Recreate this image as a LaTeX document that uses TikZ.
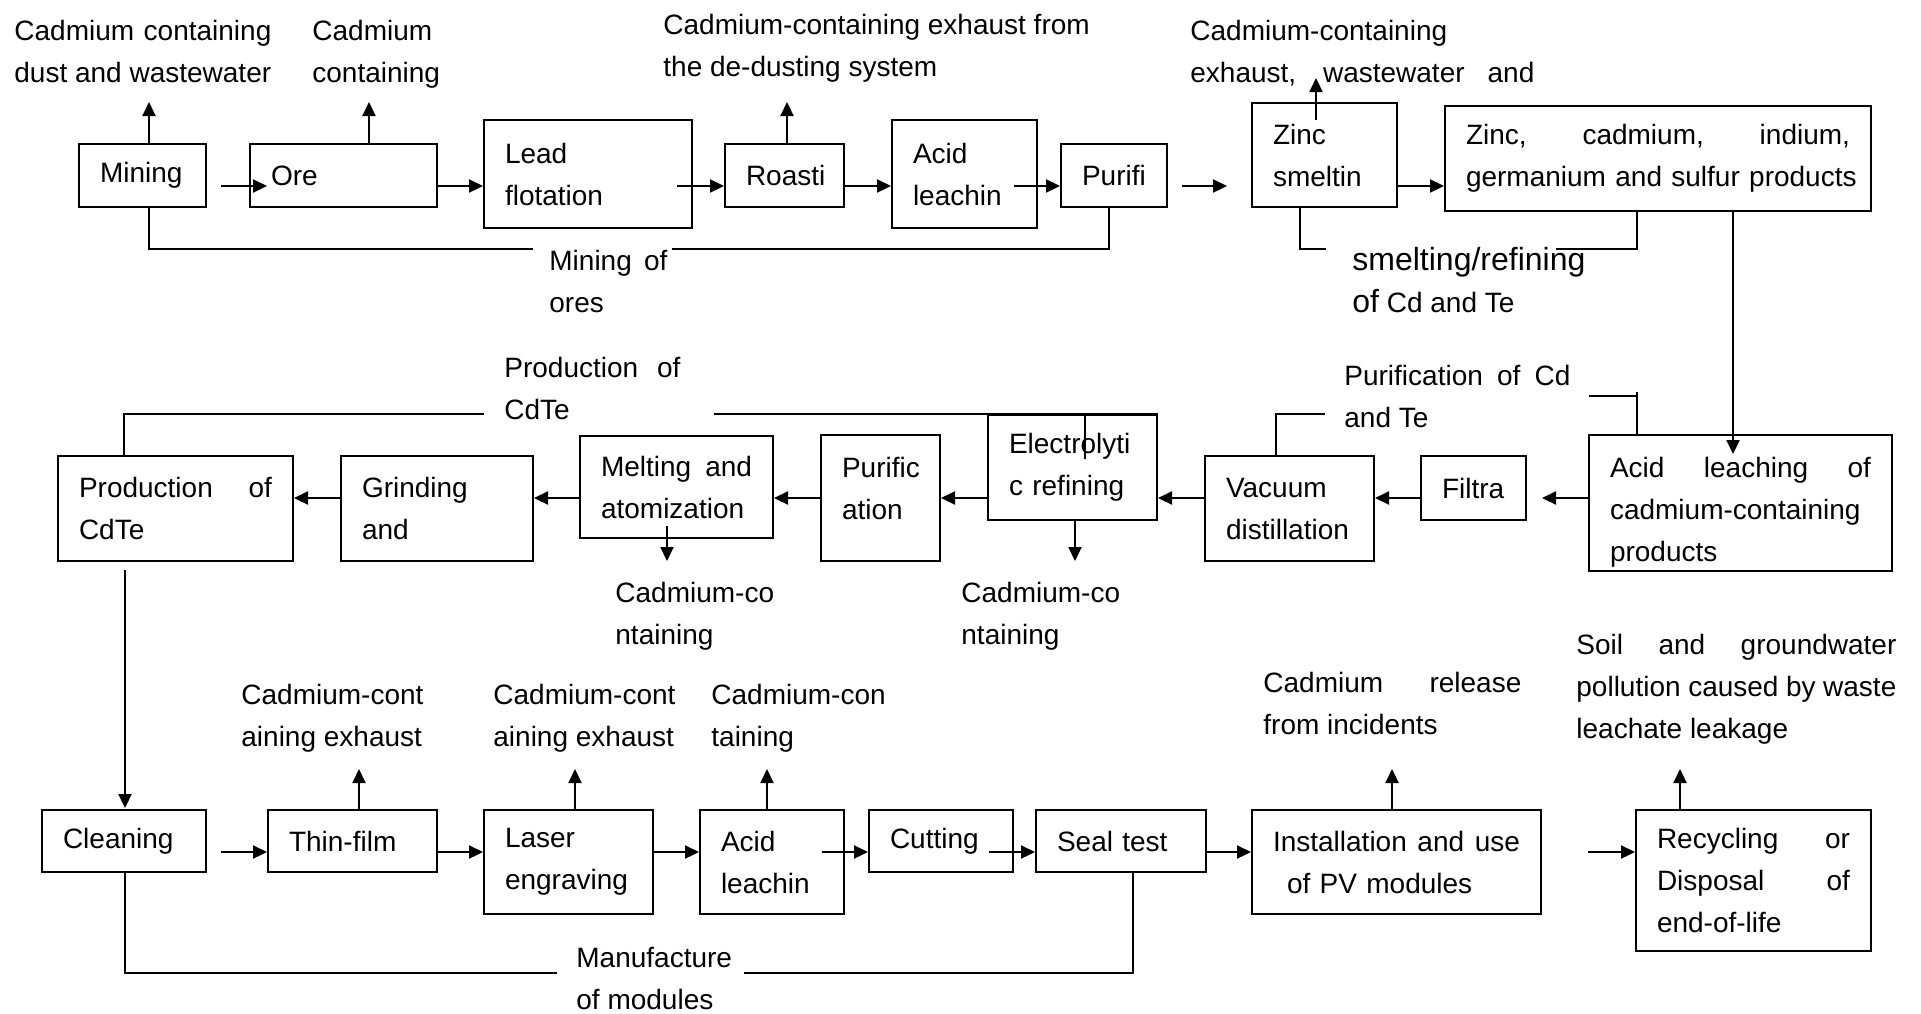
\documentclass[tikz,border=0pt]{standalone}
\usepackage{fontspec}
\setmainfont{Liberation Sans}
\usetikzlibrary{arrows.meta,calc}
\hyphenpenalty=10000
\exhyphenpenalty=10000
\newcommand\jst[2]{\makebox[#1][s]{\spaceskip=0pt\relax\xspaceskip=0pt\relax #2}}
\newcommand\txt[1]{\parbox[t]{300pt}{\raggedright #1}}
\begin{document}
\begin{tikzpicture}[x=0.5pt,y=-0.5pt,
  every node/.style={font=\fontsize{14pt}{21pt}\selectfont},
  box/.style={draw,line width=1pt,inner xsep=10.5pt,inner ysep=0pt,align=left,anchor=center},
  lab/.style={inner sep=0pt,anchor=base west},
  arr/.style={line width=1.1pt,-{Triangle[length=7pt,width=6.5pt]}},
  ln/.style={line width=1pt}]
\useasboundingbox[fill=white] (0,0) rectangle (1921,1013);

% ---------- row 1 boxes ----------
\node[box,text width=42.5pt,minimum height=31.5pt] (mining) at (142.5,175.5) {Mining};
\node[box,text width=72.5pt,minimum height=31.5pt] (ore) at (343.5,175.5) {Ore};
\node[box,text width=83pt,minimum height=54pt] (lead) at (588,174) {Lead\\flotation};
\node[box,text width=38.5pt,minimum height=31.5pt] (roast) at (784.5,175.5) {Roasti};
\node[box,text width=51.5pt,minimum height=54pt] (acid1) at (964.5,174) {Acid\\leachin};
\node[box,text width=32pt,minimum height=31.5pt] (purifi) at (1114,175.5) {Purifi};
\node[box,text width=51.5pt,minimum height=52pt] (zinc) at (1324.5,155) {Zinc\\smeltin};
\node[box,text width=192pt,minimum height=52.5pt] (prod) at (1658,158.5) {\jst{192pt}{Zinc, cadmium, indium,}\\\mbox{germanium and sulfur products}};

% ---------- row 2 boxes ----------
\node[box,text width=130.5pt,minimum height=68pt] (acidleach) at (1740.5,503) {\rule{0pt}{19pt}\jst{130.5pt}{Acid leaching of}\\cadmium-containing\\products};
\node[box,text width=31.5pt,minimum height=32pt] (filtra) at (1473.5,488) {Filtra};
\node[box,text width=63.5pt,minimum height=52.5pt] (vacuum) at (1289.5,508.5) {Vacuum\\distillation};
\node[box,text width=63.5pt,minimum height=52.5pt] (electro) at (1072.5,467.5) {Electrolyti\\c refining};
\node[box,text width=38.5pt,minimum height=63pt] (purific) at (880.5,498) {Purific\\ation\rule[-10pt]{0pt}{10pt}};
\node[box,text width=75.5pt,minimum height=51pt] (melting) at (676.5,487) {\jst{75.5pt}{Melting and}\\atomization};
\node[box,text width=75pt,minimum height=52.5pt] (grinding) at (437,508.5) {Grinding\\and};
\node[box,text width=96.5pt,minimum height=52.5pt] (cdte) at (175.5,508.5) {\jst{96.5pt}{Production of}\\CdTe};

% ---------- row 3 boxes ----------
\node[box,text width=61pt,minimum height=31pt] (cleaning) at (124,841) {Cleaning};
\node[box,text width=63.5pt,minimum height=31pt] (thin) at (352.5,841) {Thin-film};
\node[box,text width=63.5pt,minimum height=52pt] (laser) at (568.5,862) {Laser\\engraving};
\node[box,text width=51pt,minimum height=52pt] (acid2) at (772,862) {Acid\\leachin};
\node[box,text width=51pt,minimum height=31pt] (cutting) at (941,841) {Cutting};
\node[box,text width=64pt,minimum height=31pt] (seal) at (1121,841) {Seal test};
\node[box,text width=123.5pt,minimum height=52pt] (install) at (1396.5,862) {\jst{123.5pt}{Installation and use}\\\hspace*{7pt}of PV modules};
\node[box,text width=96.5pt,minimum height=70.5pt] (recyc) at (1753.5,880.5) {\jst{96.5pt}{Recycling or}\\\jst{96.5pt}{Disposal of}\\end-of-life};

% ---------- labels ----------
\node[lab] (l1) at (14,40) {\txt{\jst{128.5pt}{Cadmium containing}\\dust and wastewater}};
\node[lab] (l2) at (312,40) {\txt{Cadmium\\containing}};
\node[lab] (l3) at (663,34) {\txt{Cadmium-containing exhaust from\\the de-dusting system}};
\node[lab] (l4) at (1190,40) {\txt{Cadmium-containing\\\jst{172pt}{exhaust, wastewater and}}};
\node[lab] (l5) at (549,270) {\txt{\jst{59pt}{Mining of}\\ores}};
\node[lab] (l6) at (1352,270) {\txt{{\fontsize{16pt}{21pt}\selectfont smelting/refining}\\{\fontsize{16pt}{21pt}\selectfont of} Cd and Te}};
\node[lab] (l7) at (504,377) {\txt{\jst{88pt}{Production of}\\CdTe}};
\node[lab] (l8) at (1344,385) {\txt{\jst{113pt}{Purification of Cd}\\and Te}};
\node[lab] (l9) at (615,602) {\txt{Cadmium-co\\ntaining}};
\node[lab] (l10) at (961,602) {\txt{Cadmium-co\\ntaining}};
\node[lab] (l11) at (241,704) {\txt{Cadmium-cont\\aining exhaust}};
\node[lab] (l12) at (493,704) {\txt{Cadmium-cont\\aining exhaust}};
\node[lab] (l13) at (711,704) {\txt{Cadmium-con\\taining}};
\node[lab] (l14) at (1263,692) {\txt{\jst{129pt}{Cadmium release}\\from incidents}};
\node[lab] (l15) at (1576,654) {\txt{\jst{160pt}{Soil and groundwater}\\\jst{160pt}{pollution caused by waste}\\leachate leakage}};
\node[lab] (l16) at (576,967) {\txt{Manufacture\\of modules}};

% ---------- row 1 connectors ----------
\draw[arr] ($(mining.east)+(14,10.5)$) -- ($(ore.west)+(18,10.5)$);
\draw[arr] ($(ore.east)+(0,10.5)$) -- ($(lead.west)+(0,12)$);
\draw[arr] ($(lead.east)+(-16,12)$) -- ($(roast.west)+(0,10.5)$);
\draw[arr] ($(roast.east)+(0,10.5)$) -- ($(acid1.west)+(0,12)$);
\draw[arr] ($(acid1.east)+(-24,12)$) -- ($(purifi.west)+(0,10.5)$);
\draw[arr] ($(purifi.east)+(14,10.5)$) -- ($(zinc.west)+(-24,31)$);
\draw[arr] ($(zinc.east)+(0,31)$) -- ($(prod.west)+(0,27.5)$);

\draw[arr] ($(mining.north)+(6.5,0)$) -- ++(0,-41);
\draw[arr] ($(ore.north)+(25.5,0)$) -- ++(0,-41);
\draw[arr] ($(roast.north)+(2.5,0)$) -- ++(0,-41);
\draw[arr] ($(zinc.north)+(-8.5,18)$) -- ++(0,-42);

\draw[ln] ($(mining.south)+(6.5,0)$) -- ++(0,41) -- ++(384,0);
\draw[ln] ($(purifi.south)+(-5,0)$) -- ++(0,41) -- ++(-437,0);
\draw[ln] ($(zinc.south)+(-24.5,0)$) -- ++(0,41) -- ++(26,0);
\draw[ln] ($(prod.south)+(-21,0)$) -- ++(0,37) -- ++(-81,0);
\draw[arr] ($(prod.south)+(75,0)$) -- ($(acidleach.north)+(-7.5,20)$);

% ---------- row 2 connectors ----------
\draw[arr] ($(acidleach.west)+(0,-5)$) -- ($(filtra.east)+(15,10)$);
\draw[arr] ($(filtra.west)+(0,10)$) -- ($(vacuum.east)+(0,-10.5)$);
\draw[arr] ($(vacuum.west)+(0,-10.5)$) -- ($(electro.east)+(0,30.5)$);
\draw[arr] ($(electro.west)+(0,30.5)$) -- (purific.east);
\draw[arr] (purific.west) -- ($(melting.east)+(0,11)$);
\draw[arr] ($(melting.west)+(0,11)$) -- ($(grinding.east)+(0,-10.5)$);
\draw[arr] ($(grinding.west)+(0,-10.5)$) -- ($(cdte.east)+(0,-10.5)$);

\draw[arr] ($(melting.south)+(-9.5,-13)$) -- ++(0,35);
\draw[arr] ($(electro.south)+(2.5,0)$) -- ++(0,40);

\draw[ln] ($(cdte.north)+(-51.5,0)$) -- ++(0,-41) -- ++(360,0);
\draw[ln] ($(electro.north west)+(-273,0)$) -- (electro.north east);
\draw[ln] ($(electro.north)+(12.5,0)$) -- ++(0,45);
\draw[ln] ($(vacuum.north)+(-13.5,0)$) -- ++(0,-41) -- ++(49,0);
\draw[ln] ($(acidleach.north)+(-103.5,0)$) -- ++(0,-42);
\draw[ln] ($(acidleach.north)+(-151.5,-38)$) -- ++(48,0);

\draw[arr] ($(cdte.south)+(-50.5,8)$) -- ($(cleaning.north)+(1,-1)$);

% ---------- row 3 connectors ----------
\draw[arr] ($(cleaning.east)+(14,11)$) -- ($(thin.west)+(0,11)$);
\draw[arr] ($(thin.east)+(0,11)$) -- ($(laser.west)+(0,-10)$);
\draw[arr] ($(laser.east)+(0,-10)$) -- ($(acid2.west)+(0,-10)$);
\draw[arr] ($(acid2.east)+(-23,-10)$) -- ($(cutting.west)+(0,11)$);
\draw[arr] ($(cutting.east)+(-25,11)$) -- ($(seal.west)+(0,11)$);
\draw[arr] ($(seal.east)+(0,11)$) -- ($(install.west)+(0,-10)$);
\draw[arr] ($(install.east)+(46,-10)$) -- ($(recyc.west)+(0,-28.5)$);

\draw[arr] ($(thin.north)+(6.5,0)$) -- ++(0,-40);
\draw[arr] ($(laser.north)+(6.5,0)$) -- ++(0,-40);
\draw[arr] ($(acid2.north)+(-5,0)$) -- ++(0,-40);
\draw[arr] ($(install.north)+(-4.5,0)$) -- ++(0,-40);
\draw[arr] ($(recyc.north)+(-73.5,0)$) -- ++(0,-40);

\draw[ln] ($(cleaning.south)+(1,0)$) -- ++(0,100) -- ++(432,0);
\draw[ln] ($(seal.south)+(12,0)$) -- ++(0,100) -- ++(-389,0);
\end{tikzpicture}
\end{document}
